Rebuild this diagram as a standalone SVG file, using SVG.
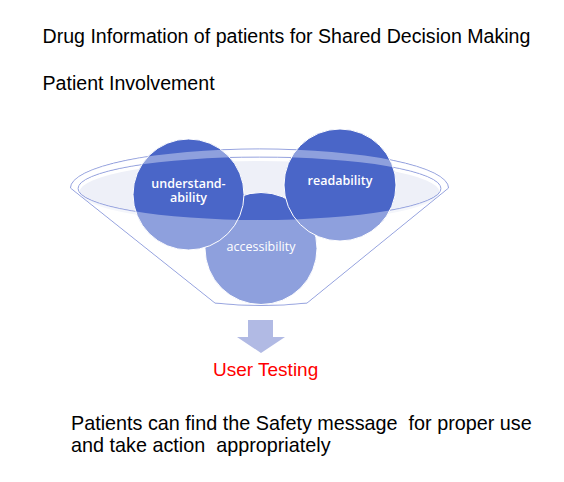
<svg xmlns="http://www.w3.org/2000/svg" width="564" height="482" viewBox="0 0 564 482">
<style>
.t{font-family:"Liberation Sans",Arial,sans-serif;fill:#000;white-space:pre}
.c{fill:#4A66C8;stroke:#fff;stroke-width:1}
.cl{font-family:"Open Sans","Noto Sans",sans-serif;font-size:12.5px;fill:#fff;text-anchor:middle}
.ln{fill:none;stroke:#7F8FD8;stroke-width:1}
</style>
<rect width="564" height="482" fill="#fff"/>
<text class="t" x="42.5" y="42.5" font-size="19.6">Drug Information of patients for Shared Decision Making</text>
<text class="t" x="42.5" y="89.5" font-size="19.6">Patient Involvement</text>
<g id="funnel">
<ellipse cx="259.5" cy="192" rx="180" ry="31" fill="#EEF0F8"/>
<ellipse cx="259.5" cy="188.5" rx="181.5" ry="31.5" fill="#E6E9F5" class="ln"/>
<path class="ln" d="M70.5,188 A189,39 0 0 1 448.5,188 L307,303 Q261,308 215,303 Z"/>
</g>
<g id="accessibility"><circle class="c" cx="261" cy="248.5" r="56"/></g>
<g id="understandability"><circle class="c" cx="188.5" cy="194.5" r="55.5"/></g>
<g id="readability"><circle class="c" cx="340" cy="185" r="56"/></g>
<path id="funnel-front" fill="#fff" fill-opacity="0.38" fill-rule="evenodd" d="M70.5,188 A189,39 0 0 1 448.5,188 L307,303 Q261,308 215,303 Z M78,188.5 A181.5,31.5 0 0 0 441,188.5 A181.5,31.5 0 0 0 78,188.5 Z"/>
<text class="cl" x="188.5" y="187.5" font-weight="600">understand-</text>
<text class="cl" x="188.5" y="202" font-weight="600">ability</text>
<text class="cl" x="340" y="185" font-weight="600">readability</text>
<text class="cl" x="261" y="251">accessibility</text>
<g id="connectors">
<polygon points="248,320 273,320 273,337 285,337 261,353 237,337 248,337" fill="#B1BAE4"/>
</g>
<text x="213" y="376" font-family="Liberation Sans,Arial,sans-serif" font-size="19" fill="#FF0000">User Testing</text>
<text class="t" x="71" y="429.5" font-size="19.8">Patients can find the Safety message  for proper use</text>
<text class="t" x="71" y="451.5" font-size="19.8">and take action  appropriately</text>
</svg>
